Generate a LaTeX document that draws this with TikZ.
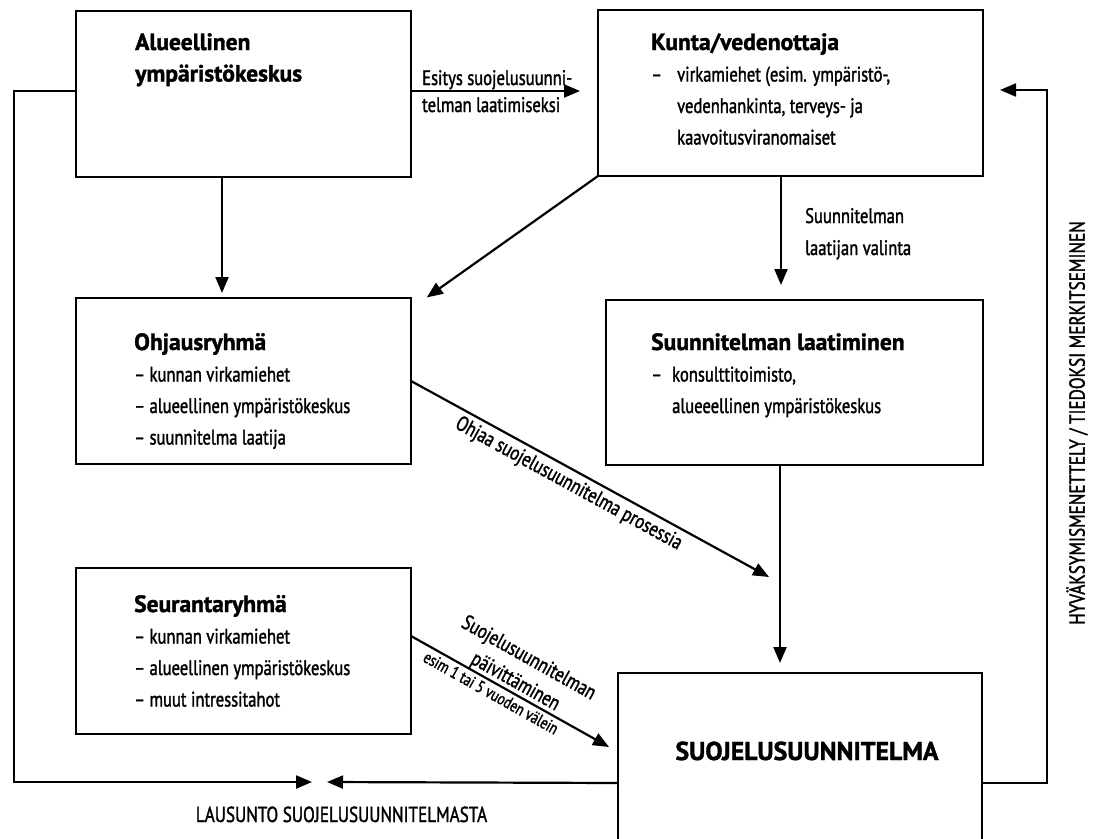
\documentclass[tikz,border=0pt]{standalone}
\usepackage{fontspec}
\setmainfont{PT Sans}[FakeStretch=0.79, FakeBold=1.5]
\newfontfamily\headfont{PT Sans}[FakeStretch=1.0, FakeBold=1.5]
\usetikzlibrary{arrows.meta}
\newcommand\bodysize{\fontsize{21}{31.5}\selectfont}
\newcommand\headsize{\headfont\fontsize{23.5}{31.5}\selectfont\bfseries}
\newcommand\capsize{\fontsize{21.7}{24}\selectfont}
\newcommand\rows[1]{\begin{tabular}[t]{@{}l@{}}#1\end{tabular}}
\begin{document}
\begin{tikzpicture}[x=1pt,y=-1pt,
  box/.style={draw, line width=2.4pt, inner sep=0pt, outer sep=0pt, minimum height=166pt},
  txt/.style={anchor=base west, inner sep=0pt, font=\bodysize},
  arr/.style={line width=2.2pt, -{Triangle[length=16pt,width=13pt]}}]
\useasboundingbox (0,0) rectangle (1095,838);
\fill[white] (0,0) rectangle (1095,838);
\clip (0,0) rectangle (1095,838);

% boxes
\node[box, minimum width=335pt] (A) at (243.5,94) {};
\node[box, minimum width=385pt] (K) at (790.5,93) {};
\node[box, minimum width=335pt] (O) at (243.5,381) {};
\node[box, minimum width=377pt, minimum height=165pt] (S) at (794.5,382.5) {};
\node[box, minimum width=335pt] (R) at (243.5,651) {};
\node[box, minimum width=364pt, minimum height=220pt] (P) at (800,783) {};

% box texts
\node[txt] (Atxt) at (135,50) {\rows{\headsize Alueellinen\\\headsize ympäristökeskus}};
\node[txt] (Ktxt) at (651,50) {\begin{tabular}[t]{@{}p{26pt}@{}l@{}}\multicolumn{2}{@{}l@{}}{\headsize Kunta/vedenottaja}\\
 – & virkamiehet (esim. ympäristö-,\\
   & vedenhankinta, terveys- ja\\
   & kaavoitusviranomaiset\end{tabular}};
\node[txt] (Otxt) at (134,350) {\rows{\headsize Ohjausryhmä\\– kunnan virkamiehet\\– alueellinen ympäristökeskus\\– suunnitelma laatija}};
\node[txt] (Stxt) at (651,350) {\begin{tabular}[t]{@{}p{21pt}@{}l@{}}\multicolumn{2}{@{}l@{}}{\headsize Suunnitelman laatiminen}\\
 – & konsulttitoimisto,\\
   & alueeellinen ympäristökeskus\end{tabular}};
\node[txt] (Rtxt) at (134,612) {\rows{\headsize Seurantaryhmä\\– kunnan virkamiehet\\– alueellinen ympäristökeskus\\– muut intressitahot}};
\node[anchor=base, inner sep=0pt, font=\headfont\fontsize{25.8}{30}\selectfont\bfseries] (Ptxt) at (807,760) {SUOJELUSUUNNITELMA};

% free ends
\coordinate (ohjtip) at (769,577);
\coordinate (sutip) at (609,747);
\coordinate (cornerL) at (14,782);
\coordinate (lausL) at (312,782);
\coordinate (lausR) at (327,782);
\coordinate (cornerR) at (1047,90);

% connectors
\draw[arr, shorten >=18pt] ([yshift=3pt]A.east) -- ([yshift=3pt]A.east -| K.west);
\node[txt, font=\fontsize{21}{27}\selectfont] (esitys) at (422,85) {\rows{Esitys suojelusuunni-\\telman laatimiseksi}};

\draw[arr, shorten >=5pt] ([xshift=-21.5pt]A.south) -- ([xshift=-21.5pt]A.south |- O.north);
\draw[arr, shorten >=1pt] (K.south west) -- ([xshift=15pt]O.north east);

\draw[arr, shorten >=15pt] ([xshift=-9.5pt]K.south) -- ([xshift=-9.5pt]K.south |- S.north);
\node[txt, font=\fontsize{21}{32}\selectfont] (valinta) at (805,223) {\rows{Suunnitelman\\laatijan valinta}};

\draw[arr, shorten >=10pt] ([xshift=-14.5pt]S.south) -- ([xshift=-14.5pt]S.south |- P.north);

\draw[arr] (O.east) -- node[sloped, below, pos=0.46, inner sep=4pt, font=\bodysize] (ohjlbl) {Ohjaa suojelusuunnitelma prosessia} (ohjtip);

\draw[arr] ([yshift=15pt]R.east) -- node[sloped, above, pos=0.5, inner sep=0pt, align=center, font=\fontsize{21}{27}\selectfont] (paivlbl) {Suojelusuunnitelman\\päivittäminen}
  node[sloped, below, pos=0.43, inner sep=3pt, font=\fontsize{17}{18}\selectfont] (esimlbl) {esim 1 tai 5 vuoden välein} (sutip);

\draw[arr] ([yshift=3pt]A.west) -| (cornerL) -- (lausL);
\draw[arr] (P.west) -- (lausR);
\node[anchor=base, inner sep=0pt, font=\capsize] (laus) at (341.5,822) {LAUSUNTO SUOJELUSUUNNITELMASTA};

\draw[arr, shorten >=17pt] (P.east) -| (cornerR) -- ([yshift=3pt]K.east);
\node[rotate=90, inner sep=0pt, font=\capsize] (hyv) at (1077,423) {HYVÄKSYMISMENETTELY / TIEDOKSI MERKITSEMINEN};
\end{tikzpicture}
\end{document}
